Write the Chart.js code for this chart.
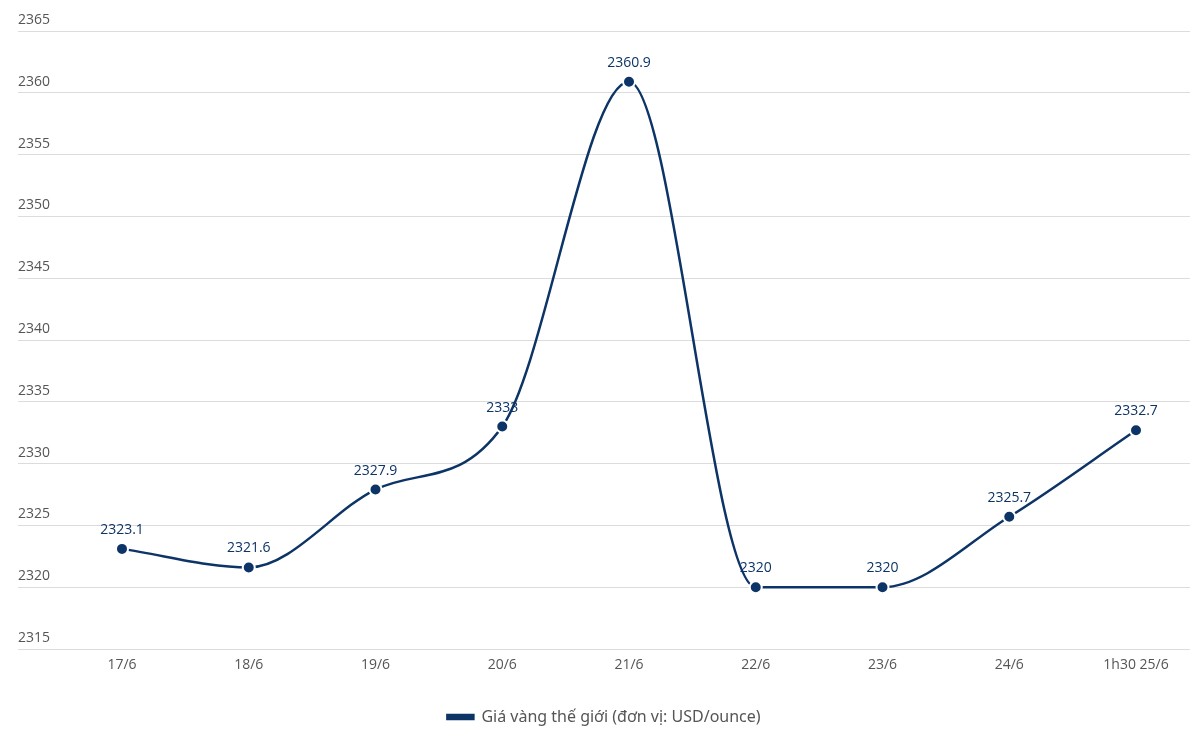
<!DOCTYPE html>
<html>
<head>
<meta charset="utf-8">
<script src="https://cdn.jsdelivr.net/npm/chart.js@4"></script>
<style>
  body { margin: 0; background: #fff; }
  #wrap { width: 1190px; height: 743px; position: relative; }
</style>
</head>
<body>
<div id="wrap"><canvas id="goldChart"></canvas></div>
<script>
const days = ['17/6', '18/6', '19/6', '20/6', '21/6', '22/6', '23/6', '24/6', '1h30 25/6'];
const goldPrice = [2323.1, 2321.6, 2327.9, 2333, 2360.9, 2320, 2320, 2325.7, 2332.7];
const seriesName = 'Giá vàng thế giới (đơn vị: USD/ounce)';

const navy = '#0d3466';
const textGray = '#555555';

// value labels above each point
const pointLabels = {
  id: 'pointLabels',
  afterDatasetsDraw(chart) {
    const ctx = chart.ctx;
    const meta = chart.getDatasetMeta(0);
    ctx.save();
    ctx.font = '14px "Open Sans"';
    ctx.fillStyle = navy;
    ctx.textAlign = 'center';
    ctx.textBaseline = 'middle';
    meta.data.forEach((pt, i) => {
      ctx.fillText(String(goldPrice[i]), pt.x, pt.y - 19);
    });
    ctx.restore();
  }
};

new Chart(document.getElementById('goldChart'), {
  type: 'line',
  data: {
    datasets: [{
      label: seriesName,
      data: goldPrice.map((v, i) => ({ x: i, y: v })),
      borderColor: navy,
      backgroundColor: navy,
      borderWidth: 2.5,
      cubicInterpolationMode: 'monotone',
      pointRadius: 6,
      pointHoverRadius: 6,
      pointBackgroundColor: navy,
      pointBorderColor: '#ffffff',
      pointBorderWidth: 2
    }]
  },
  options: {
    responsive: true,
    maintainAspectRatio: false,
    animation: false,
    layout: { autoPadding: false, padding: { left: 18, top: 31, right: 0, bottom: 8 } },
    scales: {
      x: {
        type: 'linear',
        min: -0.8205,
        max: 8.426,
        grid: { display: false, drawTicks: false },
        border: { display: false },
        ticks: {
          stepSize: 1,
          includeBounds: false,
          autoSkip: false,
          maxRotation: 0,
          padding: 8,
          color: textGray,
          font: { family: '"Open Sans"', size: 14 },
          callback: v => (Number.isInteger(v) && days[v] !== undefined) ? days[v] : ''
        },
        afterFit: s => { s.height = 46; s.paddingLeft = 0; s.paddingRight = 0; }
      },
      y: {
        min: 2315,
        max: 2365,
        grid: { color: '#dcdcdc', drawTicks: false, lineWidth: 1 },
        border: { display: false },
        ticks: {
          stepSize: 5,
          mirror: true,
          padding: 0,
          labelOffset: -11,
          color: textGray,
          font: { family: '"Open Sans"', size: 14 },
          callback: v => String(v)
        },
        afterFit: s => { s.width = 0; }
      }
    },
    plugins: {
      legend: {
        position: 'bottom',
        labels: {
          boxWidth: 26,
          boxHeight: 4,
          padding: 14,
          color: textGray,
          font: { family: '"Noto Sans"', size: 16 }
        }
      },
      tooltip: { enabled: false }
    }
  },
  plugins: [pointLabels]
});
</script>
</body>
</html>
